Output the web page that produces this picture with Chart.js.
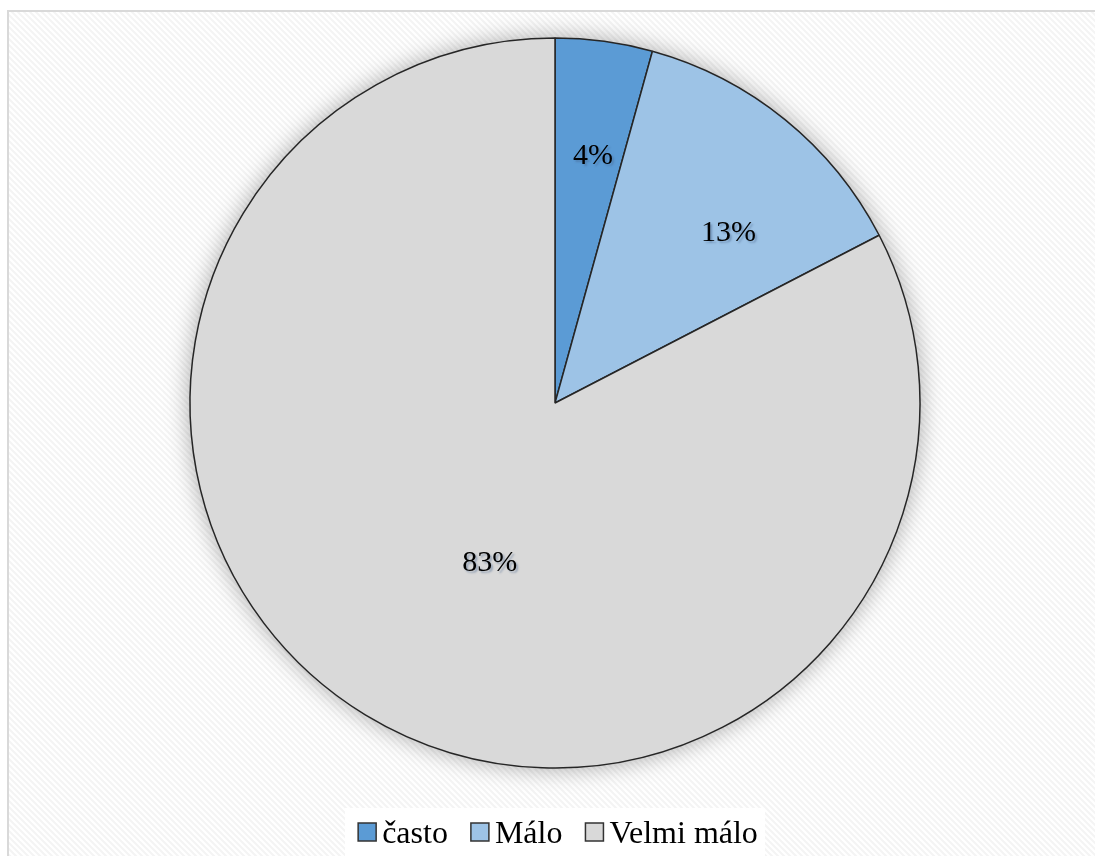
<!DOCTYPE html>
<html>
<head>
<meta charset="utf-8">
<script src="https://cdn.jsdelivr.net/npm/chart.js@4.4.1/dist/chart.umd.min.js"></script>
<style>
  html, body { margin: 0; padding: 0; background: #ffffff; }
  #chart { display: block; }
</style>
</head>
<body>
<canvas id="chart" width="1095" height="856"></canvas>
<script>
// Data
const categories = ['často', 'Málo', 'Velmi málo'];
const shares = [4.3, 13.1, 82.6];
const shareLabels = ['4%', '13%', '83%'];
const sliceColors = ['#5B9BD5', '#9DC3E6', '#D9D9D9'];

// where each percentage sits inside its slice (fraction of the sweep, fraction of radius)
const labelSweep = [0.56, 0.63, 0.47];
const labelRadius = [0.69, 0.67, 0.47];

const serif = '"Liberation Serif", "Times New Roman", serif';

// faint diagonal hatch used by the chart area background
function makeHatch(ctx) {
    const tile = document.createElement('canvas');
    tile.width = 6;
    tile.height = 6;
    const t = tile.getContext('2d');
    t.fillStyle = '#ffffff';
    t.fillRect(0, 0, 6, 6);
    t.strokeStyle = '#f4f4f4';
    t.lineWidth = 2;
    t.beginPath();
    t.moveTo(-1, -1); t.lineTo(7, 7);
    t.moveTo(-4, 2); t.lineTo(2, 8);
    t.moveTo(2, -4); t.lineTo(8, 2);
    t.stroke();
    return ctx.createPattern(tile, 'repeat');
}

const backgroundPlugin = {
    id: 'background',
    beforeDraw(chart) {
        const ctx = chart.ctx;
        ctx.save();
        ctx.fillStyle = '#ffffff';
        ctx.fillRect(0, 0, chart.width, chart.height);
        ctx.fillStyle = makeHatch(ctx);
        ctx.fillRect(8, 11, chart.width, chart.height);
        ctx.strokeStyle = '#d9d9d9';
        ctx.lineWidth = 2;
        ctx.strokeRect(8, 11, chart.width + 20, chart.height + 20);
        ctx.restore();
    }
};

// soft glow around the pie
const shadowPlugin = {
    id: 'pieShadow',
    beforeDatasetsDraw(chart) {
        const arc = chart.getDatasetMeta(0).data[0];
        if (!arc) return;
        const ctx = chart.ctx;
        ctx.save();
        ctx.shadowColor = 'rgba(0, 0, 0, 0.35)';
        ctx.shadowBlur = 24;
        ctx.fillStyle = '#d9d9d9';
        ctx.beginPath();
        ctx.arc(arc.x, arc.y, arc.outerRadius, 0, Math.PI * 2);
        ctx.fill();
        ctx.restore();
    }
};

const valueLabelPlugin = {
    id: 'valueLabels',
    afterDatasetsDraw(chart) {
        const ctx = chart.ctx;
        const meta = chart.getDatasetMeta(0);
        ctx.save();
        ctx.font = '30px ' + serif;
        ctx.textAlign = 'center';
        ctx.textBaseline = 'middle';
        meta.data.forEach((arc, i) => {
            const a = arc.startAngle + (arc.endAngle - arc.startAngle) * labelSweep[i];
            const r = arc.outerRadius * labelRadius[i];
            const x = arc.x + Math.cos(a) * r;
            const y = arc.y + Math.sin(a) * r + 2;
            ctx.shadowColor = 'rgba(70, 100, 140, 0.45)';
            ctx.shadowOffsetX = 2;
            ctx.shadowOffsetY = 2;
            ctx.shadowBlur = 2;
            ctx.fillStyle = '#000000';
            ctx.fillText(shareLabels[i], x, y);
        });
        ctx.restore();
    }
};

// bottom legend with a white plate behind it
const legendPlugin = {
    id: 'bottomLegend',
    afterDraw(chart) {
        const ctx = chart.ctx;
        ctx.save();
        ctx.fillStyle = '#ffffff';
        ctx.fillRect(345, 808, 420, 48);
        ctx.font = '32px ' + serif;
        const box = 18;
        const gapText = 6;
        const gapItem = 23;
        const widths = categories.map(c => ctx.measureText(c).width);
        const total = widths.reduce((s, w) => s + box + gapText + w, 0) + gapItem * (categories.length - 1);
        let x = 558 - total / 2;
        const cy = 832;
        categories.forEach((c, i) => {
            ctx.fillStyle = sliceColors[i];
            ctx.strokeStyle = '#333333';
            ctx.lineWidth = 1.5;
            ctx.fillRect(x, cy - box / 2, box, box);
            ctx.strokeRect(x, cy - box / 2, box, box);
            x += box + gapText;
            ctx.fillStyle = '#000000';
            ctx.textBaseline = 'middle';
            ctx.textAlign = 'left';
            ctx.fillText(c, x, cy + 3);
            x += widths[i] + gapItem;
        });
        ctx.restore();
    }
};

const ctx = document.getElementById('chart').getContext('2d');
const pieChart = new Chart(ctx, {
    type: 'pie',
    data: {
        labels: categories,
        datasets: [{
            data: shares,
            backgroundColor: sliceColors,
            borderColor: '#262626',
            borderWidth: 1.5
        }]
    },
    options: {
        responsive: false,
        animation: false,
        radius: 365,
        layout: {
            padding: { left: 15, right: 0, top: 0, bottom: 50 }
        },
        plugins: {
            legend: { display: false },
            tooltip: { enabled: false }
        }
    },
    plugins: [backgroundPlugin, shadowPlugin, valueLabelPlugin, legendPlugin]
});
</script>
</body>
</html>
